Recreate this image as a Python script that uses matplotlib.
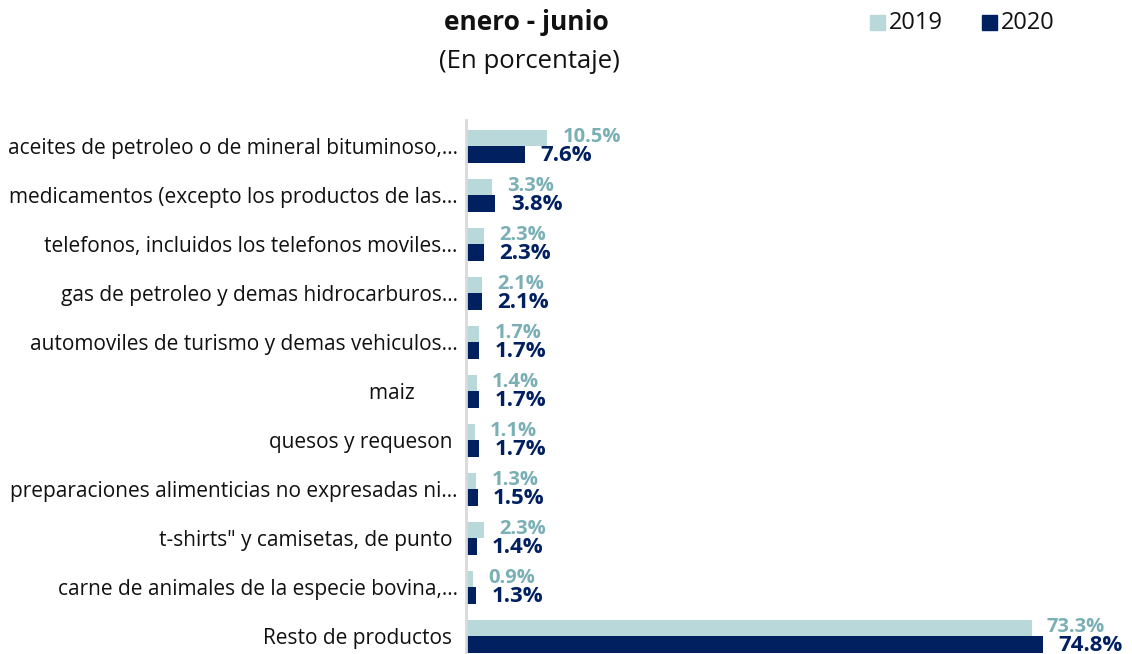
import matplotlib.pyplot as plt
from matplotlib.patches import Rectangle

plt.rcParams['font.family'] = ['Open Sans', 'DejaVu Sans']

# data
categories = [
    'aceites de petroleo o de mineral bituminoso,…',
    'medicamentos (excepto los productos de las…',
    'telefonos, incluidos los telefonos moviles…',
    'gas de petroleo y demas hidrocarburos…',
    'automoviles de turismo y demas vehiculos…',
    'maiz        ',
    'quesos y requeson ',
    'preparaciones alimenticias no expresadas ni…',
    't-shirts" y camisetas, de punto ',
    'carne de animales de la especie bovina,…',
    'Resto de productos ',
]
vals_2019 = [10.5, 3.3, 2.3, 2.1, 1.7, 1.4, 1.1, 1.3, 2.3, 0.9, 73.3]
vals_2020 = [7.6, 3.8, 2.3, 2.1, 1.7, 1.7, 1.7, 1.5, 1.4, 1.3, 74.8]
years = ['2019', '2020']

c19 = '#B9D8DA'
c19_txt = '#79AFB5'
c20 = '#002060'

fig = plt.figure(figsize=(11.32, 6.54), dpi=100)
ax = fig.add_axes([0.4117, 0.0, 0.5883, 0.8165])

y = list(range(len(categories)))
h = 0.33
ax.barh([i - 0.165 for i in y], vals_2019, height=h, color=c19)
ax.barh([i + 0.175 for i in y], vals_2020, height=h, color=c20)

for i in y:
    ax.annotate(f'{vals_2019[i]:.1f}%', (vals_2019[i], i - 0.19), xytext=(11, 0),
                textcoords='offset points', va='center', ha='left',
                fontsize=14.5, fontweight='bold', color=c19_txt, annotation_clip=False)
    ax.annotate(f'{vals_2020[i]:.1f}%', (vals_2020[i], i + 0.2), xytext=(11, 0),
                textcoords='offset points', va='center', ha='left',
                fontsize=16, fontweight='bold', color=c20, annotation_clip=False)

ax.set_xlim(0, 86.3)
ax.set_ylim(10.37, -0.53)
ax.set_yticks(y)
ax.set_yticklabels(categories, fontsize=15, color='#111111')
ax.tick_params(axis='y', length=0, pad=6)
ax.set_xticks([])
for s in ['top', 'right', 'bottom']:
    ax.spines[s].set_visible(False)
ax.spines['left'].set_color('#D9D9D9')
ax.spines['left'].set_linewidth(2)

fig.text(526 / 1132, 1 - 23 / 654, 'enero - junio', ha='center', va='center',
         fontsize=19, fontweight='bold', color='#111111')
fig.text(529 / 1132, 1 - 62 / 654, '(En porcentaje)', ha='center', va='center',
         fontsize=18.5, color='#111111')

# legend
for k, (lab, col) in enumerate(zip(years, [c19, c20])):
    x0 = 870 + k * 112
    fig.patches.append(Rectangle((x0 / 1132, 1 - 30 / 654), 15 / 1132, 15 / 654,
                                 transform=fig.transFigure, color=col))
    fig.text((x0 + 19) / 1132, 1 - 23 / 654, lab, ha='left', va='center',
             fontsize=17, color='#111111')

fig.savefig('out.png', dpi=100)
